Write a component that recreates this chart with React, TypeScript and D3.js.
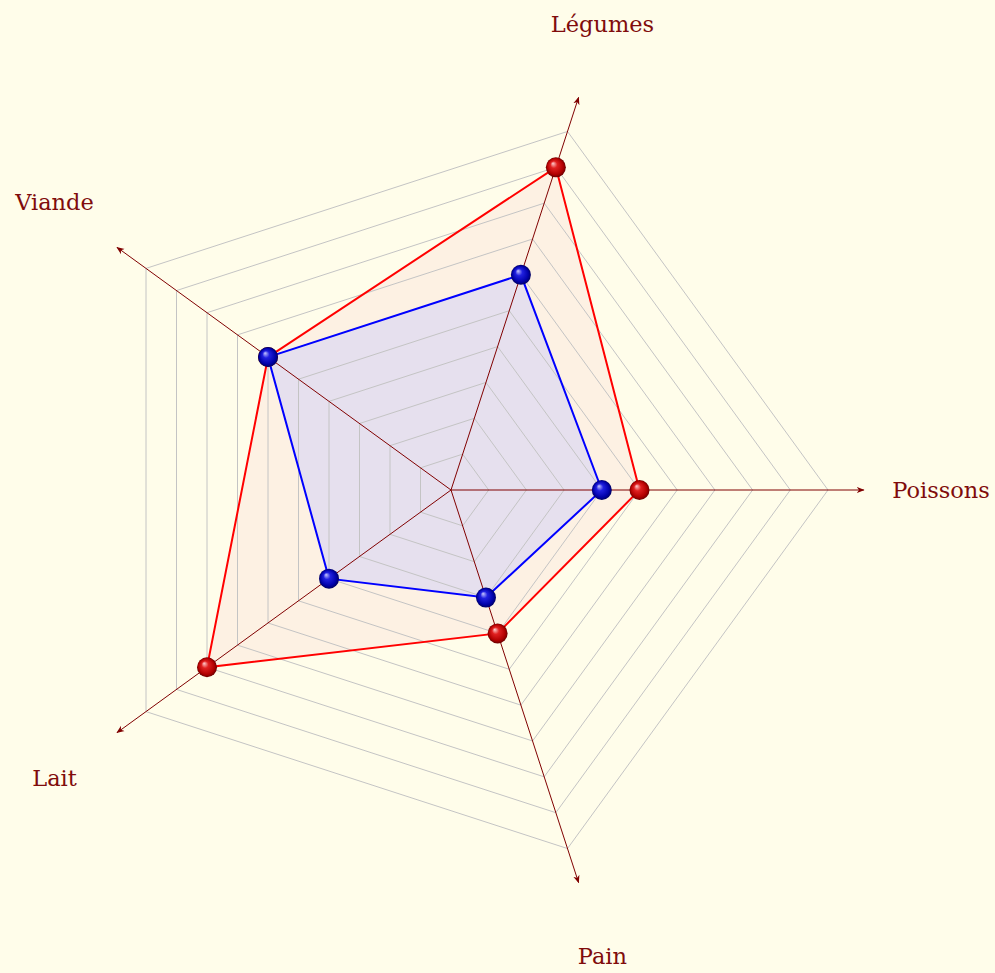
import React from "react";
import * as d3 from "d3";

const categories = ["Poissons", "Légumes", "Viande", "Lait", "Pain"];
const seriesRed = [5, 9, 6, 8, 4];
const seriesBlue = [4, 6, 6, 4, 3];
const gridLevels = [1, 2, 3, 4, 5, 6, 7, 8, 9, 10];

const W = 995;
const H = 973;
const CX = 451;
const CY = 490;

export default function App() {
  const r = d3.scaleLinear().domain([0, 10]).range([0, 377]);
  const angle = d3
    .scaleLinear()
    .domain([0, categories.length])
    .range([0, 2 * Math.PI]);
  const pt = (i: number, v: number): [number, number] => {
    const a = angle(i);
    return [CX + r(v) * Math.cos(a), CY - r(v) * Math.sin(a)];
  };
  const line = d3.line<[number, number]>().curve(d3.curveLinearClosed);
  const poly = (vals: number[]) => line(vals.map((v, i) => pt(i, v))) || "";

  const textColor = "#800c0c";
  const axisColor = "#800000";

  return (
    <svg
      width={W}
      height={H}
      style={{ position: "absolute", left: 0, top: 0, background: "#fffdea" }}
    >
      <defs>
        <marker
          id="arr"
          viewBox="0 0 10 10"
          refX="9"
          refY="5"
          markerWidth="8"
          markerHeight="8"
          markerUnits="userSpaceOnUse"
          orient="auto"
        >
          <path d="M0,1 L10,5 L0,9 L3,5 Z" fill={axisColor} />
        </marker>
        <radialGradient id="gRed" cx="0.5" cy="0.5" r="0.5" fx="0.35" fy="0.3">
          <stop offset="0%" stopColor="#ffd0d0" />
          <stop offset="35%" stopColor="#e02020" />
          <stop offset="80%" stopColor="#b00000" />
          <stop offset="100%" stopColor="#6a0000" />
        </radialGradient>
        <radialGradient id="gBlue" cx="0.5" cy="0.5" r="0.5" fx="0.35" fy="0.3">
          <stop offset="0%" stopColor="#c8c8ff" />
          <stop offset="35%" stopColor="#2020e0" />
          <stop offset="80%" stopColor="#0000a8" />
          <stop offset="100%" stopColor="#000060" />
        </radialGradient>
      </defs>
      <rect x={0} y={0} width={W} height={H} fill="#fffdea" />

      <path d={poly(seriesRed)} fill="#fdf1e3" stroke="none" />
      <path d={poly(seriesBlue)} fill="#e6e0ee" stroke="none" />

      {gridLevels.map((lv) => (
        <path
          key={lv}
          d={poly(categories.map(() => lv))}
          fill="none"
          stroke="#c4c4c4"
          strokeWidth={1}
        />
      ))}

      {categories.map((c, i) => {
        const [x, y] = pt(i, 10.95);
        return (
          <line
            key={c}
            x1={CX}
            y1={CY}
            x2={x}
            y2={y}
            stroke={axisColor}
            strokeWidth={1}
            markerEnd="url(#arr)"
          />
        );
      })}

      <path d={poly(seriesRed)} fill="none" stroke="#ff0000" strokeWidth={2} />
      <path d={poly(seriesBlue)} fill="none" stroke="#0000ff" strokeWidth={2} />

      {seriesRed.map((v, i) => {
        const [x, y] = pt(i, v);
        return <circle key={"r" + i} cx={x} cy={y} r={10} fill="url(#gRed)" />;
      })}
      {seriesBlue.map((v, i) => {
        const [x, y] = pt(i, v);
        return <circle key={"b" + i} cx={x} cy={y} r={10} fill="url(#gBlue)" />;
      })}

      {categories.map((c, i) => {
        const [x, y] = pt(i, 13);
        return (
          <text
            key={c}
            x={x}
            y={y}
            textAnchor="middle"
            dominantBaseline="central"
            fill={textColor}
            fontFamily="'DejaVu Serif', serif"
            fontSize={22.5}
          >
            {c}
          </text>
        );
      })}
    </svg>
  );
}
